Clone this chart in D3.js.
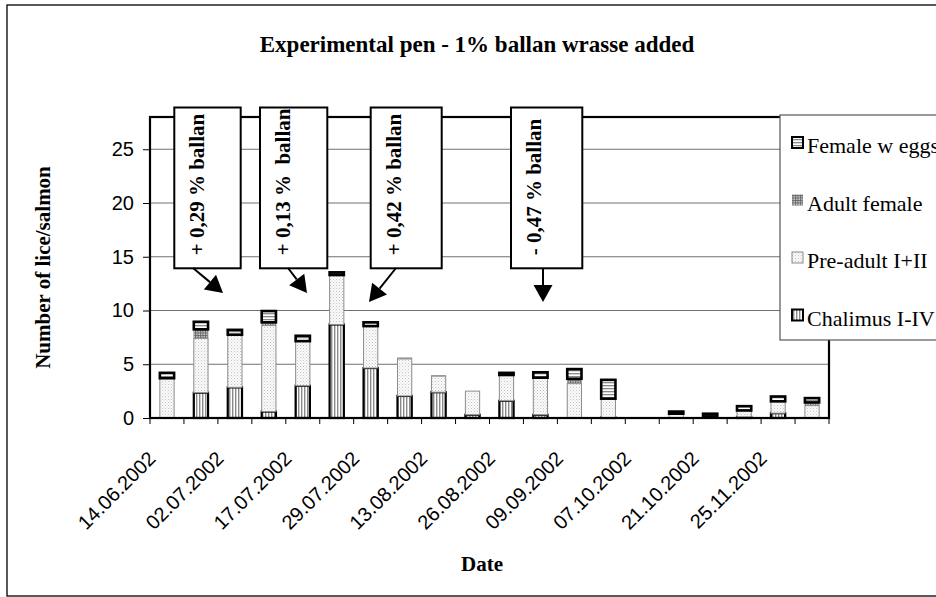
<!DOCTYPE html>
<html>
<head>
<meta charset="utf-8">
<script src="https://cdn.jsdelivr.net/npm/d3@7"></script>
<style>
  html, body { margin: 0; padding: 0; background: #fff; }
  svg { display: block; }
</style>
</head>
<body>
<svg id="chart" width="936" height="597"></svg>
<script>
// ---------------- data ----------------
const dateLabels = ["14.06.2002", "", "02.07.2002", "", "17.07.2002", "", "29.07.2002", "",
  "13.08.2002", "", "26.08.2002", "", "09.09.2002", "", "07.10.2002", "", "21.10.2002", "",
  "25.11.2002", ""];
const chalimus    = [0, 2.35, 2.85, 0.6, 3.0, 8.7, 4.65, 2.05, 2.4, 0.3, 1.6, 0.3, 0, 0.05, 0, 0, 0, 0.1, 0.45, 0];
const preAdult    = [3.7, 5.05, 4.9, 8.0, 4.15, 4.6, 3.9, 3.45, 1.5, 2.2, 2.4, 3.45, 3.2, 1.75, 0, 0.4, 0.15, 0.6, 1.1, 1.15];
const adultFemale = [0, 0.85, 0, 0.3, 0, 0, 0, 0.1, 0.05, 0, 0, 0, 0.45, 0, 0, 0, 0, 0, 0, 0.3];
const femaleEggs  = [0.5, 0.7, 0.45, 1.05, 0.5, 0.25, 0.35, 0, 0, 0, 0.2, 0.5, 0.9, 1.75, 0, 0.2, 0.25, 0.4, 0.45, 0.4];
const seriesNames = ["Chalimus I-IV", "Pre-adult I+II", "Adult female", "Female w eggs"];
const yTicks = [0, 5, 10, 15, 20, 25];
const annotationTexts = ["+ 0,29 % ballan", "+ 0,13 %  ballan", "+ 0,42 % ballan", "- 0,47 % ballan"];
const titleText = "Experimental pen - 1% ballan wrasse added";

// ---------------- layout ----------------
const svg = d3.select("#chart");
const plot = { left: 150, right: 829, top: 117, bottom: 418 };
const serif = "'Liberation Serif', 'Times New Roman', serif";
const sans = "'Liberation Sans', Arial, sans-serif";

const table = dateLabels.map((d, i) => ({
  idx: i,
  "Chalimus I-IV": chalimus[i],
  "Pre-adult I+II": preAdult[i],
  "Adult female": adultFemale[i],
  "Female w eggs": femaleEggs[i]
}));

const x = d3.scaleBand().domain(d3.range(dateLabels.length))
  .range([plot.left, plot.right]).paddingInner(0.58).paddingOuter(0.29);
const y = d3.scaleLinear().domain([0, 28]).range([plot.bottom, plot.top]);
const step = x.step();

// ---------------- patterns ----------------
const defs = svg.append("defs");
const pChal = defs.append("pattern").attr("id", "pChal").attr("patternUnits", "userSpaceOnUse").attr("width", 3).attr("height", 3);
pChal.append("rect").attr("width", 3).attr("height", 3).attr("fill", "#fff");
pChal.append("rect").attr("x", 1).attr("width", 1.4).attr("height", 3).attr("fill", "#8a8a8a");

const pPre = defs.append("pattern").attr("id", "pPre").attr("patternUnits", "userSpaceOnUse").attr("width", 3).attr("height", 3);
pPre.append("rect").attr("width", 3).attr("height", 3).attr("fill", "#fbfbfb");
pPre.append("rect").attr("x", 0).attr("y", 0).attr("width", 1).attr("height", 1).attr("fill", "#c4c4c4");
pPre.append("rect").attr("x", 1.5).attr("y", 1.5).attr("width", 1).attr("height", 1).attr("fill", "#d4d4d4");

const pAdult = defs.append("pattern").attr("id", "pAdult").attr("patternUnits", "userSpaceOnUse").attr("width", 2.5).attr("height", 2.5);
pAdult.append("rect").attr("width", 2.5).attr("height", 2.5).attr("fill", "#d0d0d0");
pAdult.append("rect").attr("width", 1).attr("height", 2.5).attr("fill", "#6a6a6a");
pAdult.append("rect").attr("width", 2.5).attr("height", 1).attr("fill", "#6a6a6a");

const pEggs = defs.append("pattern").attr("id", "pEggs").attr("patternUnits", "userSpaceOnUse").attr("width", 3).attr("height", 3);
pEggs.append("rect").attr("width", 3).attr("height", 3).attr("fill", "#fff");
pEggs.append("rect").attr("y", 1).attr("width", 3).attr("height", 1.3).attr("fill", "#8a8a8a");

const styles = {
  "Chalimus I-IV":  { fill: "url(#pChal)",  stroke: "#000", sw: 2.2 },
  "Pre-adult I+II": { fill: "url(#pPre)",   stroke: "#8c8c8c", sw: 1 },
  "Adult female":   { fill: "url(#pAdult)", stroke: "#9a9a9a", sw: 0.6 },
  "Female w eggs":  { fill: "url(#pEggs)",  stroke: "#000", sw: 2.6 }
};

// ---------------- outer border ----------------
svg.append("rect").attr("x", 7).attr("y", 5).attr("width", 960).attr("height", 591)
  .attr("fill", "#fff").attr("stroke", "#000").attr("stroke-width", 1.3);

// ---------------- title ----------------
svg.append("text").attr("x", 477).attr("y", 52).attr("text-anchor", "middle")
  .attr("font-family", serif).attr("font-weight", "bold").attr("font-size", 23)
  .text(titleText);

// ---------------- gridlines ----------------
svg.append("g").selectAll("line").data(yTicks.filter(t => t > 0)).join("line")
  .attr("x1", plot.left).attr("x2", plot.right)
  .attr("y1", d => y(d)).attr("y2", d => y(d))
  .attr("stroke", "#707070").attr("stroke-width", 1);

// ---------------- bars ----------------
const stack = d3.stack().keys(seriesNames);
const stacked = stack(table);
const barG = svg.append("g");
stacked.forEach(layer => {
  const st = styles[layer.key];
  barG.append("g").selectAll("rect")
    .data(layer.filter(d => d[1] - d[0] > 0))
    .join("rect")
    .attr("x", d => x(d.data.idx))
    .attr("width", x.bandwidth())
    .attr("y", d => y(d[1]))
    .attr("height", d => Math.max(0.5, y(d[0]) - y(d[1])))
    .attr("fill", st.fill)
    .attr("stroke", st.stroke)
    .attr("stroke-width", st.sw);
});

// ---------------- plot frame ----------------
svg.append("rect").attr("x", plot.left).attr("y", plot.top)
  .attr("width", plot.right - plot.left).attr("height", plot.bottom - plot.top)
  .attr("fill", "none").attr("stroke", "#000").attr("stroke-width", 2.2);

// ---------------- y axis ----------------
const yAxis = d3.axisLeft(y).tickValues(yTicks).tickSize(7).tickPadding(9);
const yG = svg.append("g").attr("transform", `translate(${plot.left},0)`).call(yAxis);
yG.select(".domain").remove();
yG.selectAll(".tick line").attr("stroke", "#000").attr("stroke-width", 1);
yG.selectAll(".tick text").attr("font-family", sans).attr("font-size", 20).attr("fill", "#000");

// ---------------- x axis ----------------
const xG = svg.append("g");
xG.selectAll("line").data(d3.range(dateLabels.length + 1)).join("line")
  .attr("x1", i => plot.left + i * step).attr("x2", i => plot.left + i * step)
  .attr("y1", plot.bottom).attr("y2", plot.bottom + 6)
  .attr("stroke", "#000").attr("stroke-width", 1);
xG.selectAll("text").data(table.filter(d => dateLabels[d.idx] !== "")).join("text")
  .attr("transform", d => `translate(${x(d.idx) + x.bandwidth() / 2 - 10},${plot.bottom + 42}) rotate(-45)`)
  .attr("text-anchor", "end")
  .attr("font-family", sans).attr("font-size", 20)
  .text(d => dateLabels[d.idx]);

// axis titles
svg.append("text").attr("x", 482).attr("y", 571).attr("text-anchor", "middle")
  .attr("font-family", serif).attr("font-weight", "bold").attr("font-size", 21)
  .text("Date");
svg.append("text").attr("transform", `translate(50,${(plot.top + plot.bottom) / 2}) rotate(-90)`)
  .attr("text-anchor", "middle")
  .attr("font-family", serif).attr("font-weight", "bold").attr("font-size", 21)
  .text("Number of lice/salmon");

// ---------------- annotations ----------------
const annoLayout = [
  { x0: 174.3, x1: 240.7, from: [193, 268], to: [223, 293] },
  { x0: 260,   x1: 327.3, from: [288, 268], to: [307, 293] },
  { x0: 370.7, x1: 441.7, from: [396, 268], to: [369, 302] },
  { x0: 511,   x1: 582.3, from: [543, 268], to: [543, 302] }
];
const annoTop = 107.5, annoBottom = 268.3;
const aG = svg.append("g");
annotationTexts.forEach((t, i) => {
  const L = annoLayout[i];
  aG.append("rect").attr("x", L.x0).attr("y", annoTop)
    .attr("width", L.x1 - L.x0).attr("height", annoBottom - annoTop)
    .attr("fill", "#fff").attr("stroke", "#000").attr("stroke-width", 2);
  aG.append("text")
    .attr("transform", `translate(${L.x0 + 30},${annoBottom - 13}) rotate(-90)`)
    .attr("font-family", serif).attr("font-weight", "bold").attr("font-size", 21)
    .style("white-space", "pre")
    .text(t);
  // arrow
  const dx = L.to[0] - L.from[0], dy = L.to[1] - L.from[1];
  const len = Math.hypot(dx, dy), ux = dx / len, uy = dy / len;
  const hl = 17, hw = 9.5;
  const bx = L.to[0] - ux * hl, by = L.to[1] - uy * hl;
  aG.append("line").attr("x1", L.from[0]).attr("y1", L.from[1]).attr("x2", bx).attr("y2", by)
    .attr("stroke", "#000").attr("stroke-width", 2);
  aG.append("path")
    .attr("d", `M${L.to[0]},${L.to[1]} L${bx - uy * hw},${by + ux * hw} L${bx + uy * hw},${by - ux * hw} Z`)
    .attr("fill", "#000");
});

// ---------------- legend ----------------
const legG = svg.append("g");
legG.append("rect").attr("x", 780).attr("y", 115).attr("width", 200).attr("height", 225)
  .attr("fill", "#fff").attr("stroke", "#555").attr("stroke-width", 1.2);
const legendOrder = ["Female w eggs", "Adult female", "Pre-adult I+II", "Chalimus I-IV"];
legendOrder.forEach((k, i) => {
  const cy = 143 + i * 57.5;
  const st = styles[k];
  legG.append("rect").attr("x", 792).attr("y", cy - 6).attr("width", 11).attr("height", 11)
    .attr("fill", st.fill).attr("stroke", k === "Adult female" ? "none" : st.stroke)
    .attr("stroke-width", Math.min(st.sw, 2));
  legG.append("text").attr("x", 807).attr("y", cy + 10)
    .attr("font-family", serif).attr("font-size", 22)
    .text(k);
});
</script>
</body>
</html>
